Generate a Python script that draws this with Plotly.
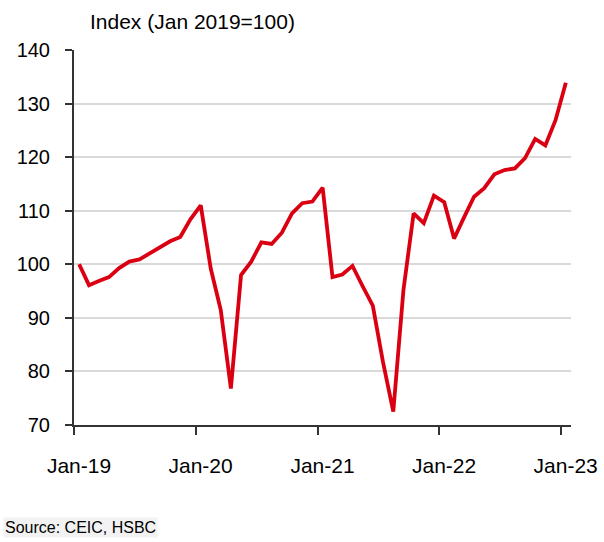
import pandas as pd
import plotly.graph_objects as go

# Monthly index, Jan 2019 = 100
months = pd.date_range("2019-01-01", "2023-01-01", freq="MS")
index_values = [
    100.0, 96.1, 96.9, 97.6, 99.3, 100.5, 100.9, 102.0, 103.2, 104.3, 105.1, 108.4,
    111.0, 99.2, 91.5, 76.8, 98.0, 100.5, 104.1, 103.8, 105.9, 109.5, 111.4, 111.7,
    114.3, 97.6, 98.1, 99.7, 95.9, 92.3, 81.8, 72.5, 95.2, 109.5, 107.7, 112.8,
    111.6, 104.8, 108.7, 112.6, 114.2, 116.8, 117.6, 117.9, 119.8, 123.4, 122.2, 126.9,
    133.9,
]
tick_dates = ["2019-01-01", "2020-01-01", "2021-01-01", "2022-01-01", "2023-01-01"]
tick_labels = ["Jan-19", "Jan-20", "Jan-21", "Jan-22", "Jan-23"]
y_ticks = [70, 80, 90, 100, 110, 120, 130, 140]

FONT = "Liberation Sans, Arial, sans-serif"

fig = go.Figure()
fig.add_trace(go.Scatter(
    x=months, y=index_values, mode="lines",
    xperiod="M1", xperiodalignment="middle",
    line=dict(color="#DB0011", width=3.8),
    hoverinfo="x+y", showlegend=False,
))

fig.update_layout(
    width=604, height=542,
    margin=dict(l=74, r=33, t=50, b=117, autoexpand=False),
    paper_bgcolor="white", plot_bgcolor="white",
    font=dict(family=FONT, color="black"),
    title=dict(text="Index (Jan 2019=100)", x=90/604, xanchor="left",
               y=1 - 22/542, yanchor="middle", automargin=False,
               font=dict(family=FONT, size=21, color="black")),
    xaxis=dict(
        type="date", range=["2019-01-01", "2023-02-01"],
        tickmode="array", tickvals=tick_dates, ticktext=tick_labels,
        ticks="outside", ticklen=8, tickwidth=1.5, tickcolor="#333",
        showline=True, linecolor="#333", linewidth=2,
        showgrid=False, zeroline=False, automargin=False,
        tickfont=dict(family=FONT, size=21, color="black"),
        ticklabelstandoff=13, ticklabelshift=5,
    ),
    yaxis=dict(
        range=[70, 140], tickmode="array", tickvals=y_ticks,
        ticks="outside", ticklen=7, tickwidth=1.5, tickcolor="#333",
        showline=True, linecolor="#333", linewidth=2,
        showgrid=True, gridcolor="#d9d9d9", gridwidth=1.5,
        zeroline=False, automargin=False,
        tickfont=dict(family=FONT, size=20, color="black"),
        ticklabelstandoff=11,
    ),
    annotations=[dict(
        text="Source: CEIC, HSBC", xref="paper", yref="paper",
        x=-71/497, y=-(527-425)/375, xanchor="left", yanchor="middle",
        showarrow=False, bgcolor="#f2f2f2",
        font=dict(family=FONT, size=16, color="black"),
    )],
)

fig.write_html(
    "out.html",
    config={"displayModeBar": False},
    post_script="document.body.style.margin='0';document.body.style.overflow='hidden';",
)
